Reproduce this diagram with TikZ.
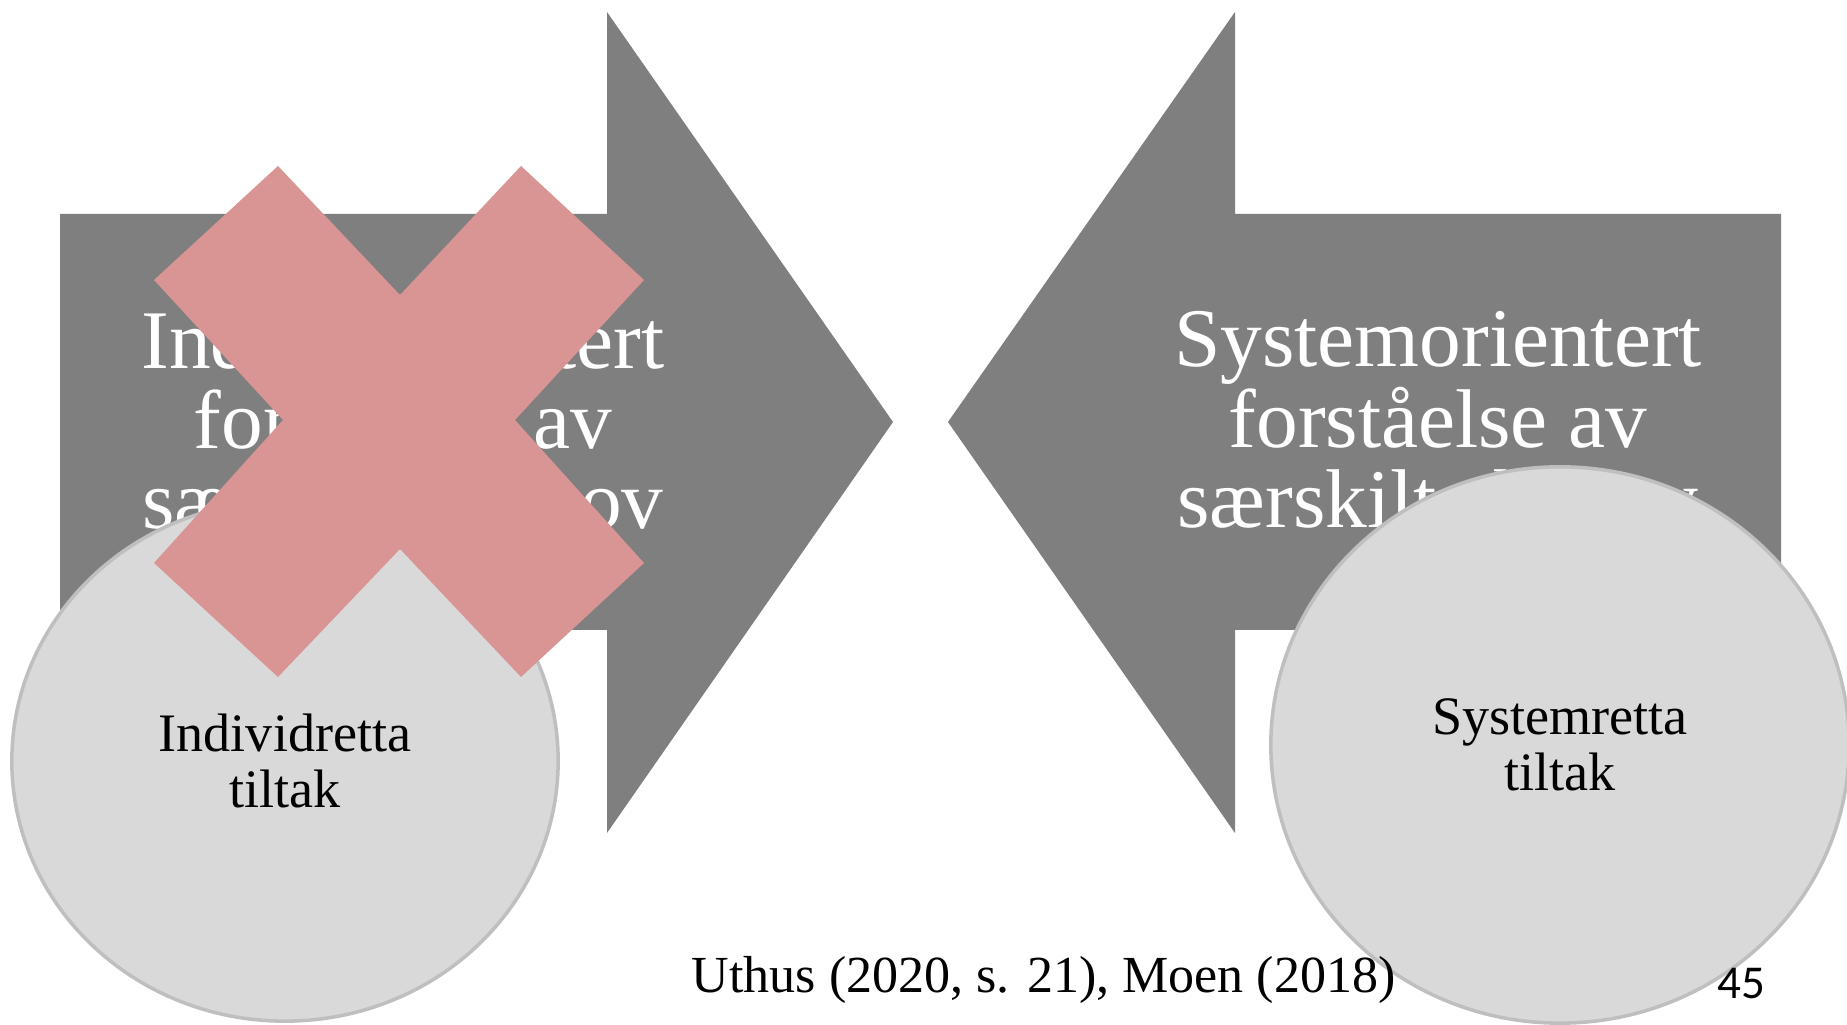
\documentclass[tikz,border=0pt]{standalone}
\usepackage{fontspec}
\setmainfont{Liberation Serif}
\newfontfamily\slidenum{Carlito}
\usetikzlibrary{shapes.geometric}
\definecolor{arrowgrey}{HTML}{7F7F7F}
\definecolor{bubblefill}{HTML}{D9D9D9}
\definecolor{bubbleline}{HTML}{BFBFBF}
\definecolor{crosspink}{HTML}{D99594}
\begin{document}
\begin{tikzpicture}[x=0.01cm,y=-0.01cm]
\tikzset{bigtext/.style = {text=white, align=center, inner sep=0pt, font=\fontsize{23.7}{22.8}\selectfont},
  bubble/.style = {ellipse, draw=bubbleline, line width=1pt, fill=bubblefill, align=center, inner sep=0pt, font=\fontsize{15.4}{15.9}\selectfont}}
\useasboundingbox (0,0) rectangle (1847,1025);
% the two block arrows
\fill[arrowgrey] (60,214) -- (607,214) -- (607,12) -- (893,422) -- (607,833) -- (607,630) -- (60,630) -- cycle;
\fill[arrowgrey] (1781,214) -- (1235,214) -- (1235,12) -- (948,422) -- (1235,833) -- (1235,630) -- (1781,630) -- cycle;
\node[bigtext] (indiv) at (403,420) {Individorientert\\forståelse av\\særskilte behov};
\node[bigtext] (system) at (1438,420) {Systemorientert\\forståelse av\\særskilte behov};
% measures
\node[bubble, minimum width=5.46cm, minimum height=5.2cm] (indivtiltak) at (285,761) {Individretta\\tiltak};
\node[bubble, minimum width=5.78cm, minimum height=5.56cm] (systemtiltak) at (1560,745) {Systemretta\\tiltak};
% source and slide number
\node[anchor=base west, inner sep=0pt, font=\fontsize{14.8}{17}\selectfont] (cite) at (691,993) {Uthus (2020, s. 21), Moen (2018)};
\node[anchor=base west, inner sep=0pt, font=\slidenum\fontsize{13.4}{16}\selectfont] (pagenum) at (1717,999) {45};
% cross over the left side
\fill[crosspink] (278,166) -- (400,295) -- (521,166) -- (644,280) -- (515,420) -- (644,563) -- (521,677) -- (400,549) -- (278,677) -- (154,563) -- (283,420) -- (154,280) -- cycle;
\end{tikzpicture}
\end{document}
